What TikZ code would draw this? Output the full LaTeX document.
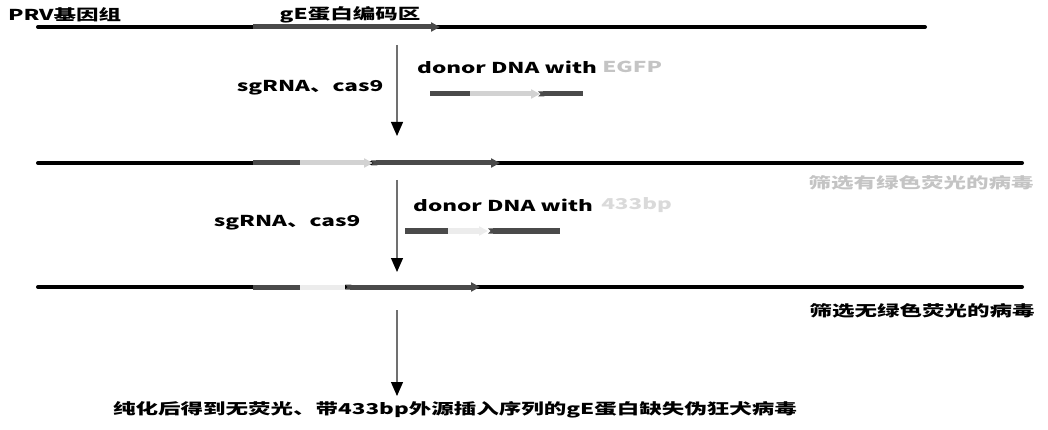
\documentclass[tikz,border=0pt]{standalone}
\usepackage{fontspec}
\setmainfont{Noto Sans CJK SC}[FakeStretch=1.5]
\usepackage{xcolor}
\usetikzlibrary{arrows.meta,positioning,calc}
\definecolor{SegDark}{HTML}{4A4A4A}
\definecolor{SegLight}{HTML}{D2D2D2}
\definecolor{ShaftGray}{HTML}{707070}
\definecolor{FaintText}{HTML}{C4C4C4}
\definecolor{FainterText}{HTML}{DADADA}

\begin{document}
\begin{tikzpicture}[x=1pt,y=-1pt,> =Latex]
  \tikzset{
    genome/.style={line width=4pt,line cap=round},
    darkseg/.style={line width=5pt,draw=SegDark},
    lightseg/.style={line width=5pt,draw=SegLight},
    segtip/.style={-{Triangle[length=9pt,width=9pt]}},
    notchtip/.style={{Triangle Cap[reversed]}-{Triangle[length=9pt,width=9pt]}},
    notch/.style={{Triangle Cap[reversed]}-},
    flow/.style={draw=ShaftGray,line width=1.2pt,
      -{Triangle[length=14pt,width=12pt,color=black]}},
    lbl/.style={inner sep=0pt,font=\bfseries\fontsize{15}{18}\selectfont},
  }
  \useasboundingbox (0,0) rectangle (1048,430);

  % genome lines
  \draw[genome] (38,27) -- (925,27);
  \draw[genome] (38,163) -- (1022,163);
  \draw[genome] (38,287) -- (1022,287);

  % gE coding region
  \draw[darkseg,segtip] (253,27) -- (440,27);

  % donor with EGFP
  \draw[darkseg] (430,94) -- (472,94);
  \draw[lightseg,segtip] (470,94) -- (540,94);
  \draw[darkseg,notch] (538,94) -- (583,94);

  % after insertion
  \draw[darkseg] (253,163) -- (302,163);
  \draw[lightseg,segtip] (300,163) -- (373,163);
  \draw[darkseg,notchtip] (371,163) -- (500,163);

  % second donor
  \draw[darkseg] (405,231) -- (448,231);
  \draw[line width=5pt,draw=FainterText!50,segtip] (448,231) -- (488,231);
  \draw[darkseg,notch] (488,231) -- (560,231);

  % after second insertion
  \draw[darkseg] (253,287) -- (300,287);
  \draw[line width=5pt,draw=FainterText!50] (300,287) -- (345,287);
  \draw[darkseg,notchtip] (345,287) -- (480,287);

  % labels
  \node[lbl,anchor=west] (prv) at (8,15) {PRV基因组};
  \node[lbl] (ge) at (350,15) {gE蛋白编码区};
  \node[lbl] (sg1) at (310,88) {sgRNA、cas9};
  \node[lbl,anchor=west] (donor1) at (417,67) {donor DNA with};
  \node[lbl,text=FaintText,right=5pt of donor1] (egfp) {EGFP};
  \node[lbl,text=FaintText] (sel1) at (921,183) {筛选有绿色荧光的病毒};
  \node[lbl] (sg2) at (287,223) {sgRNA、cas9};
  \node[lbl,anchor=west] (donor2) at (413,205) {donor DNA with};
  \node[lbl,text=FainterText,right=8pt of donor2] (ins) {433bp};
  \node[lbl] (sel2) at (922,311) {筛选无绿色荧光的病毒};
  \node[lbl] (final) at (455,410) {纯化后得到无荧光、带433bp外源插入序列的gE蛋白缺失伪狂犬病毒};

  % steps
  \coordinate (a1s) at (397,45);
  \coordinate (a1e) at (397,136);
  \coordinate (a2s) at (397,180);
  \coordinate (a2e) at (397,272);
  \coordinate (a3s) at (397,310);
  \coordinate (a3e) at (397,396);
  \draw[flow] (a1s) -- (a1e);
  \draw[flow] (a2s) -- (a2e);
  \draw[flow] (a3s) -- (a3e);
\end{tikzpicture}
\end{document}
